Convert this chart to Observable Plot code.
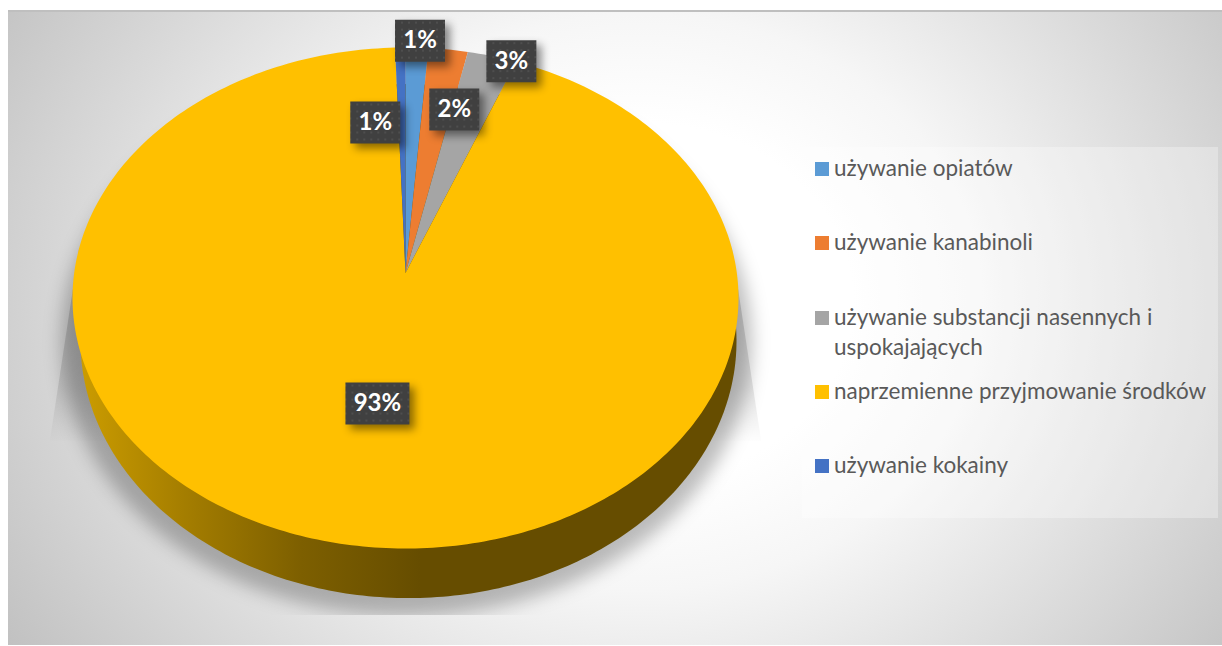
<!DOCTYPE html>
<html lang="pl">
<head>
<meta charset="utf-8">
<script src="https://cdn.jsdelivr.net/npm/d3@7"></script>
<script src="https://cdn.jsdelivr.net/npm/@observablehq/plot@0.6"></script>
<style>
  html, body { margin: 0; padding: 0; background: #fff; overflow: hidden; }
  #page { position: relative; width: 1222px; height: 646px; }
  #panel {
    position: absolute; left: 8px; top: 10px; width: 1214px; height: 635px;
    box-sizing: border-box; border-top: 2px solid #bfbfbf;
    background: radial-gradient(ellipse 760px 640px at 632px 290px, #fff 28%, #f6f6f6 45%, #c0c0c0 100%);
  }
  #legend {
    position: absolute; left: 802px; top: 147px; width: 416px; height: 371px;
    background: rgba(255,255,255,.3);
    font-family: Lato, sans-serif; font-size: 22.5px; line-height: 30px; color: #595959;
  }
  .row { position: absolute; left: 13px; right: 0; height: 30px; padding-left: 19px; }
  .swatch { position: absolute; left: 0; top: 9px; width: 14px; height: 14px; }
</style>
</head>
<body>
<div id="page">
  <div id="panel"></div>
  <div id="chart"></div>
  <div id="legend"></div>
</div>
<script>
const categories = ["używanie opiatów", "używanie kanabinoli", "używanie substancji nasennych i uspokajających", "naprzemienne przyjmowanie środków", "używanie kokainy"];
const values = [1.1, 1.9, 2.4, 94.1, 0.5];
const labels = ["1%", "2%", "3%", "93%", "1%"];
const colors = ["#5b9bd5", "#ed7d31", "#a5a5a5", "#ffc000", "#4472c4"];

// Layout: the pie lid is the unit circle of the x/y scales, seen in perspective.
const apex = 0.1;
const labelOffsets = [[3, -7], [6, 60], [19, 5], [23, -142], [-25, 75]];
const wall = {cx: 0.009, cy: -0.172, rx: 0.985, ry: 1.026};
const shadow = {cx: 0.003, cy: -0.172, rx: 1.036, ry: 1.098};
const wedge = [[-0.98, 0.2], [-1.068, -0.57], [1.068, -0.57], [0.98, 0.2]];

const rad = d => d * Math.PI / 180;
const rim = d => ({x: Math.sin(rad(d)), y: Math.cos(rad(d))});
const ellipse = e => d3.range(0, 361, 1).map(d => ({
  x: e.cx + e.rx * Math.sin(rad(d)), y: e.cy + e.ry * Math.cos(rad(d))
}));

let sum = 0;
const slices = categories.map((category, i) => {
  const start = sum * 3.6; sum += values[i]; const end = sum * 3.6;
  const steps = Math.max(2, Math.ceil(end - start));
  const pts = d3.range(steps + 1).map(k => rim(start + (end - start) * k / steps));
  const anchor = rim((start + end) / 2);
  return {category, label: labels[i], anchor, offset: labelOffsets[i],
    outline: [{x: 0, y: apex}, ...pts].map(p => ({...p, category}))};
});

const defs = () => {
  const d = d3.create("svg:defs");
  const lin = (id, attrs, stops) => {
    const g = d.append("linearGradient").attr("id", id).attr("gradientUnits", "userSpaceOnUse");
    Object.entries(attrs).forEach(([k, v]) => g.attr(k, v));
    stops.forEach(([o, c, a]) => g.append("stop").attr("offset", o).attr("stop-color", c).attr("stop-opacity", a));
  };
  lin("wallFill", {x1: 80, x2: 420, y1: 0, y2: 0},
    [[0, "#cb9c00", 1], [0.3, "#a57e00", 1], [0.65, "#7d5f00", 1], [1, "#664d00", 1]]);
  lin("wedgeFill", {x1: 0, x2: 0, y1: 250, y2: 445},
    [[0, "#000", 0.2], [0.7, "#000", 0.1], [1, "#000", 0]]);
  const p = d.append("pattern").attr("id", "dots").attr("patternUnits", "userSpaceOnUse")
    .attr("width", 7).attr("height", 7);
  p.append("rect").attr("width", 7).attr("height", 7).attr("fill", "#404040");
  p.append("rect").attr("x", 2).attr("y", 2).attr("width", 2).attr("height", 2).attr("fill", "#4e4e4e");
  return d.node();
};

const box = w => ({draw(ctx) { ctx.rect(-w / 2, -21, w, 42); }});
const labelMarks = slices.flatMap(s => {
  const opts = {x: d => d.anchor.x, y: d => d.anchor.y, dx: s.offset[0], dy: s.offset[1]};
  return [
    Plot.dot([s], {...opts, symbol: box(s.label.length > 2 ? 64 : 50), r: 10, fill: "url(#dots)", stroke: "none",
      imageFilter: "drop-shadow(5px 5px 4px rgba(0,0,0,.45))"}),
    Plot.text([s], {...opts, text: "label", fill: "#fff", fontFamily: "Lato, sans-serif", fontWeight: 700, fontSize: 24})
  ];
});

const chart = Plot.plot({
  width: 1222, height: 646,
  marginTop: 12, marginLeft: 8, marginRight: 0, marginBottom: 31,
  x: {domain: [-1, 1], range: [72, 738], axis: null},
  y: {domain: [-1, 1], range: [548, 47], axis: null},
  color: {domain: categories, range: colors},
  style: {background: "transparent", position: "absolute", left: 0, top: 0},
  marks: [
    defs,
    Plot.line(ellipse(shadow), {x: "x", y: "y", fill: "#000", fillOpacity: 0.26, stroke: "none", clip: "frame", imageFilter: "blur(9px)"}),
    Plot.line(wedge, {x: d => d[0], y: d => d[1], fill: "url(#wedgeFill)", stroke: "none"}),
    Plot.line(ellipse(wall), {x: "x", y: "y", fill: "url(#wallFill)", stroke: "none"}),
    Plot.line(slices.flatMap(s => s.outline), {x: "x", y: "y", z: "category", fill: "category", stroke: "none"}),
    ...labelMarks
  ]
});
document.getElementById("chart").append(chart);

const legend = d3.select("#legend");
categories.forEach((c, i) => {
  const row = legend.append("div").attr("class", "row").style("top", (6 + i * 74.25) + "px");
  row.append("div").attr("class", "swatch").style("background", colors[i]);
  row.append("span").text(c);
});
</script>
</body>
</html>
